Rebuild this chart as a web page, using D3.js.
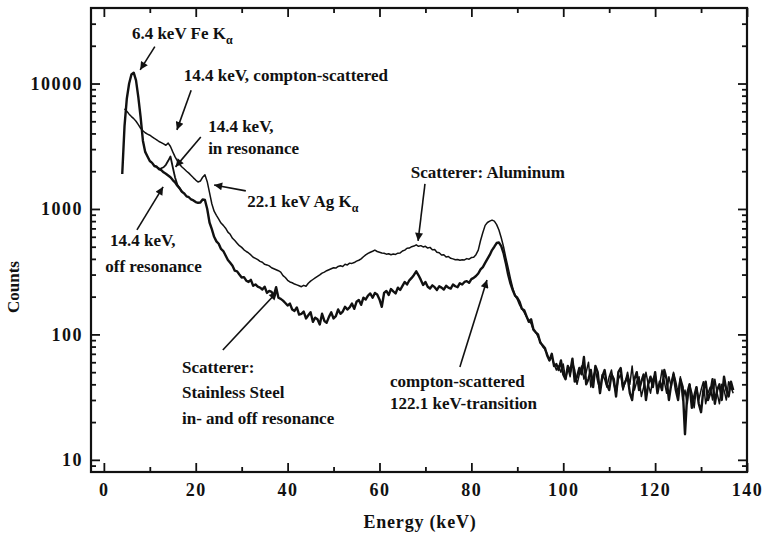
<!DOCTYPE html>
<html>
<head>
<meta charset="utf-8">
<script src="https://cdn.jsdelivr.net/npm/d3@7"></script>
<style>
  body { margin: 0; background: #fff; }
  text { font-family: "Liberation Serif", "Times New Roman", serif; fill: #111; }
</style>
</head>
<body>
<script>
const width = 762;
const height = 535;
const margin = {left: 91, top: 8, right: 15, bottom: 63};

// spectra on a 0.5 keV grid
const step = 0.5;

// stainless steel scatterer (off resonance), from 4.0 keV
const steelStart = 4.0;
const steelCounts = [
  1900, 4600, 7600, 10000, 11800, 12200, 10600, 7800, 5400, 3500,
  2850, 2620, 2410, 2330, 2200, 2170, 2080, 2040, 1960, 1910,
  1850, 1790, 1700, 1630, 1530, 1460, 1370, 1330, 1260, 1240,
  1190, 1170, 1135, 1120, 1125, 1190, 1180, 1000, 780, 690,
  600, 552, 528, 480, 462, 426, 392, 372, 352, 322,
  318, 300, 284, 286, 268, 262, 272, 244, 250, 240,
  236, 228, 240, 214, 222, 218, 204, 238, 196, 192,
  186, 178, 170, 176, 158, 154, 164, 144, 146, 152,
  134, 142, 150, 126, 136, 132, 120, 146, 128, 124,
  138, 150, 134, 140, 158, 146, 152, 166, 158, 164,
  176, 160, 182, 188, 172, 196, 190, 204, 212, 196,
  214, 208, 190, 166, 214, 222, 206, 230, 220, 212,
  236, 226, 244, 262, 250, 270, 282, 298, 318, 296,
  272, 248, 262, 240, 232, 246, 238, 226, 242, 236,
  228, 244, 236, 232, 250, 242, 238, 256, 250, 262,
  266, 258, 276, 282, 292, 306, 330, 344, 372, 400,
  430, 470, 500, 535, 540, 505, 445, 370, 300, 255,
  226, 204, 196, 182, 160, 156, 140, 126, 132, 110,
  104, 100, 86, 82, 78, 68, 62, 70, 56, 58,
  52, 62, 48, 44, 56, 50, 64, 42, 46, 54,
  48, 66, 40, 44, 52, 38, 56, 50, 34, 46,
  52, 40, 36, 48, 44, 32, 50, 54, 38, 42,
  46, 34, 30, 44, 50, 36, 42, 48, 30, 40,
  46, 38, 50, 34, 42, 36, 52, 44, 30, 40,
  48, 36, 30, 44, 38, 16, 34, 40, 26, 32,
  38, 28, 24, 36, 42, 30, 34, 44, 28, 36,
  40, 30, 46, 36, 32, 42, 36
];

// stainless steel in resonance, only where it departs from the off-resonance curve
const inResStart = 11.5;
const inResCounts = [2150, 2100, 2110, 2150, 2250, 2420, 2620, 2150, 1780, 1560, 1460, 1370];

// aluminum scatterer, from 4.5 keV
const alStart = 4.5;
const alCounts = [
  6300, 6000, 5700, 5450, 5250, 5000, 4700, 4400, 4200, 4050,
  3950, 3870, 3760, 3650, 3560, 3450, 3380, 3300, 3220, 3350,
  3150, 2850, 2600, 2420, 2260, 2160, 2080, 2000, 1930, 1850,
  1770, 1700, 1640, 1670, 1790, 1870, 1650, 1350, 1100, 960,
  890, 830, 772, 740, 702, 654, 628, 584, 560, 534,
  510, 494, 472, 458, 446, 430, 412, 404, 394, 382,
  376, 362, 358, 352, 340, 334, 328, 322, 314, 294,
  284, 270, 262, 258, 252, 248, 244, 240, 246, 242,
  256, 266, 274, 282, 290, 298, 308, 314, 322, 328,
  334, 340, 338, 348, 352, 348, 362, 358, 370, 368,
  374, 384, 390, 400, 416, 430, 442, 452, 460, 470,
  458, 452, 446, 444, 436, 440, 432, 438, 434, 444,
  446, 462, 470, 486, 488, 500, 506, 518, 504, 510,
  498, 504, 488, 494, 472, 476, 452, 448, 430, 432,
  414, 418, 404, 400, 394, 396, 390, 394, 392, 402,
  398, 410, 412, 432, 470, 560, 650, 740, 780, 800,
  815, 800, 750, 680, 590, 500, 410, 340, 280, 235,
  204, 190, 172, 160, 150, 138, 128, 122, 108, 104,
  96, 88, 80, 76, 70, 62, 66, 58, 52, 56,
  50, 58, 44, 54, 46, 60, 52, 40, 48, 56,
  44, 50, 60, 38, 46, 52, 42, 36, 48, 44,
  38, 46, 52, 40, 34, 44, 48, 36, 42, 50,
  40, 56, 36, 42, 46, 32, 38, 50, 40, 34,
  44, 48, 36, 40, 52, 42, 34, 46, 38, 50,
  42, 34, 46, 30, 36, 28, 40, 34, 26, 38,
  30, 36, 42, 28, 34, 38, 30, 44, 34, 28,
  40, 36, 30, 42, 38, 34
];

const xTicks = [0, 20, 40, 60, 80, 100, 120, 140];
const xMinor = [10, 30, 50, 70, 90, 110, 130];
const yTicks = [10, 100, 1000, 10000];
const yMinor = [9, 20, 30, 40, 50, 60, 70, 80, 90,
  200, 300, 400, 500, 600, 700, 800, 900,
  2000, 3000, 4000, 5000, 6000, 7000, 8000, 9000,
  20000, 30000];

// annotation text lines, anchored at (keV, counts)
const labels = [
  {text: "6.4 keV Fe K", sub: "\u03b1", e: 6.1, c: 22700},
  {text: "14.4 keV, compton-scattered", e: 17.4, c: 10500},
  {text: "14.4 keV,", e: 22.7, c: 4110},
  {text: "in resonance", e: 22.7, c: 2750},
  {text: "22.1 keV Ag K", sub: "\u03b1", e: 31.2, c: 1038},
  {text: "14.4 keV,", e: 1.35, c: 507},
  {text: "off resonance", e: 0.3, c: 315},
  {text: "Scatterer: Aluminum", e: 66.8, c: 1768},
  {text: "Scatterer:", e: 17.0, c: 49.2},
  {text: "Stainless Steel", e: 17.0, c: 31.1},
  {text: "in- and off resonance", e: 17.0, c: 19.3},
  {text: "compton-scattered", e: 62.3, c: 38.1},
  {text: "122.1 keV-transition", e: 62.3, c: 25.4}
];

const arrows = [
  {from: [11.1, 19700], to: [7.9, 12850]},
  {from: [19.0, 8850], to: [15.9, 4270]},
  {from: [21.1, 3750], to: [15.6, 2165]},
  {from: [30.9, 1393], to: [24.0, 1555]},
  {from: [7.2, 681], to: [12.9, 1500]},
  {from: [69.9, 1585], to: [68.4, 556]},
  {from: [25.9, 75.2], to: [37.7, 218]},
  {from: [77.5, 55], to: [83.4, 272]}
];

const svg = d3.select("body").append("svg")
    .attr("width", width)
    .attr("height", height);

const x = d3.scaleLinear()
    .domain([-2.8, 140])
    .range([margin.left, width - margin.right]);

const y = d3.scaleLog()
    .domain([8, 40000])
    .range([height - margin.bottom, margin.top]);

const toPoints = (start, counts) => counts.map((c, i) => [start + i * step, c]);

const line = d3.line()
    .x(d => x(d[0]))
    .y(d => y(d[1]));

// axes, ticks pointing inwards on all four sides
const bottom = height - margin.bottom;
const right = width - margin.right;

function styleAxis(g) {
    g.select(".domain").remove();
    g.selectAll(".tick line").attr("stroke", "#111").attr("stroke-width", 1.8);
    g.selectAll(".tick text")
        .attr("font-size", 18)
        .attr("font-weight", "bold")
        .attr("letter-spacing", 1.5)
        .attr("fill", "#111");
}

svg.append("g")
    .attr("transform", `translate(0,${bottom})`)
    .call(d3.axisBottom(x).tickValues(xTicks).tickSizeInner(-9).tickSizeOuter(0).tickPadding(11).tickFormat(d3.format("d")))
    .call(styleAxis);
svg.append("g")
    .attr("transform", `translate(0,${bottom})`)
    .call(d3.axisBottom(x).tickValues(xMinor).tickSizeInner(-5).tickSizeOuter(0).tickFormat(""))
    .call(styleAxis);
svg.append("g")
    .attr("transform", `translate(0,${margin.top})`)
    .call(d3.axisTop(x).tickValues(xTicks).tickSizeInner(-9).tickSizeOuter(0).tickFormat(""))
    .call(styleAxis);
svg.append("g")
    .attr("transform", `translate(0,${margin.top})`)
    .call(d3.axisTop(x).tickValues(xMinor).tickSizeInner(-5).tickSizeOuter(0).tickFormat(""))
    .call(styleAxis);

svg.append("g")
    .attr("transform", `translate(${margin.left},0)`)
    .call(d3.axisLeft(y).tickValues(yTicks).tickSizeInner(-9).tickSizeOuter(0).tickPadding(8).tickFormat(d3.format("d")))
    .call(styleAxis);
svg.append("g")
    .attr("transform", `translate(${margin.left},0)`)
    .call(d3.axisLeft(y).tickValues(yMinor).tickSizeInner(-5).tickSizeOuter(0).tickFormat(""))
    .call(styleAxis);
svg.append("g")
    .attr("transform", `translate(${right},0)`)
    .call(d3.axisRight(y).tickValues(yTicks).tickSizeInner(-9).tickSizeOuter(0).tickFormat(""))
    .call(styleAxis);
svg.append("g")
    .attr("transform", `translate(${right},0)`)
    .call(d3.axisRight(y).tickValues(yMinor).tickSizeInner(-5).tickSizeOuter(0).tickFormat(""))
    .call(styleAxis);

svg.append("rect")
    .attr("x", margin.left)
    .attr("y", margin.top)
    .attr("width", right - margin.left)
    .attr("height", bottom - margin.top)
    .attr("fill", "none")
    .attr("stroke", "#111")
    .attr("stroke-width", 2.2);

// spectra
svg.append("path")
    .datum(toPoints(alStart, alCounts))
    .attr("d", line)
    .attr("fill", "none")
    .attr("stroke", "#111")
    .attr("stroke-width", 1.5)
    .attr("stroke-linejoin", "round");

svg.append("path")
    .datum(toPoints(steelStart, steelCounts))
    .attr("d", line)
    .attr("fill", "none")
    .attr("stroke", "#111")
    .attr("stroke-width", 2.4)
    .attr("stroke-linejoin", "round");

svg.append("path")
    .datum(toPoints(inResStart, inResCounts))
    .attr("d", line)
    .attr("fill", "none")
    .attr("stroke", "#111")
    .attr("stroke-width", 1.8)
    .attr("stroke-linejoin", "round");

// axis titles
svg.append("text")
    .attr("transform", "translate(19,287) rotate(-90)")
    .attr("text-anchor", "middle")
    .attr("font-size", 17)
    .attr("font-weight", "bold")
    .text("Counts");

svg.append("text")
    .attr("x", 420)
    .attr("y", 528)
    .attr("text-anchor", "middle")
    .attr("font-size", 18)
    .attr("font-weight", "bold")
    .attr("letter-spacing", 0.8)
    .text("Energy (keV)");

// annotations
svg.append("defs").append("marker")
    .attr("id", "head")
    .attr("viewBox", "0 0 10 10")
    .attr("refX", 10)
    .attr("refY", 5)
    .attr("markerWidth", 11)
    .attr("markerHeight", 8)
    .attr("markerUnits", "userSpaceOnUse")
    .attr("orient", "auto")
    .append("path")
    .attr("d", "M0,0 L10,5 L0,10 z")
    .attr("fill", "#111");

svg.selectAll(".arrow")
    .data(arrows)
    .join("line")
    .attr("class", "arrow")
    .attr("x1", d => x(d.from[0]))
    .attr("y1", d => y(d.from[1]))
    .attr("x2", d => x(d.to[0]))
    .attr("y2", d => y(d.to[1]))
    .attr("stroke", "#111")
    .attr("stroke-width", 1.6)
    .attr("marker-end", "url(#head)");

const lab = svg.selectAll(".label")
    .data(labels)
    .join("text")
    .attr("class", "label")
    .attr("x", d => x(d.e))
    .attr("y", d => y(d.c))
    .attr("font-size", 17)
    .attr("font-weight", "bold");

lab.append("tspan").text(d => d.text);
lab.filter(d => d.sub)
    .append("tspan")
    .attr("dy", 5)
    .attr("font-size", 12)
    .text(d => d.sub);
</script>
</body>
</html>
